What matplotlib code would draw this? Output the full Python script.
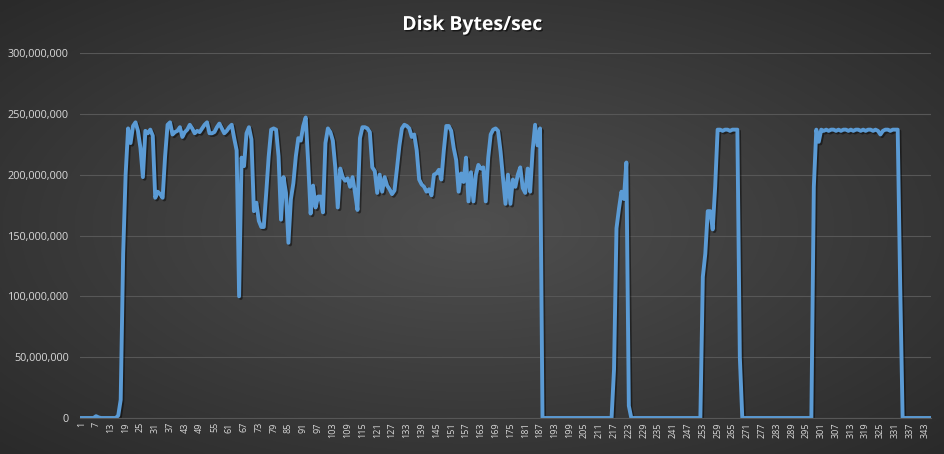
import matplotlib.pyplot as plt
import matplotlib.patheffects as pe
from matplotlib.ticker import FuncFormatter
import numpy as np

# Disk Bytes/sec samples (millions of bytes per second)
values_m = [
    0, 0, 0, 0, 0, 0, 1.5, 0.5, 0, 0, 0, 0, 0, 0, 0, 2,
    15, 135, 200, 238, 226, 240, 243, 236, 222, 198, 236, 234, 237, 232,
    181, 186, 184, 181, 215, 241, 243, 233, 235, 236, 239, 231, 235, 237, 241,
    238, 234, 236, 235, 238, 241, 243, 234, 234, 235, 239, 242, 238, 234, 236, 239, 241, 230, 220, 100,
    214, 207, 234, 239, 229, 170, 177, 162, 157, 157, 185, 215, 237, 238, 237, 215, 163, 198, 185, 144,
    180, 193, 215, 230, 228, 240, 247, 210, 168, 191, 173, 182, 182, 169, 226, 238, 235, 228, 206, 173,
    205, 198, 195, 197, 190, 198, 185, 171, 230, 239, 239, 238, 235, 206, 203, 185, 200, 186, 198, 191,
    188, 184, 187, 205, 224, 238, 241, 240, 238, 231, 233, 220, 196, 192, 190, 186, 188, 183, 200, 201,
    204, 196, 220, 240, 240, 236, 222, 212, 186, 201, 194, 214, 178, 202, 178, 200, 208, 205, 206, 178,
    214, 233, 237, 238, 236, 219, 197, 176, 200, 176, 196, 190, 200, 206, 189, 185, 205, 186, 220, 241, 224, 238,
    0, 0, 0, 0, 0, 0, 0, 0, 0, 0, 0, 0, 0, 0, 0, 0, 0, 0, 0, 0, 0, 0, 0, 0, 0, 0, 0, 0, 0,
    40, 156, 172, 186, 180, 210, 10,
    0, 0, 0, 0, 0, 0, 0, 0, 0, 0, 0, 0, 0, 0, 0, 0, 0, 0, 0, 0, 0, 0, 0, 0, 0, 0, 0, 0, 0,
    116, 135, 170, 170, 155, 190, 237, 237, 236, 237, 237, 236, 237, 237, 237, 50,
    0, 0, 0, 0, 0, 0, 0, 0, 0, 0, 0, 0, 0, 0, 0, 0, 0, 0, 0, 0, 0, 0, 0, 0, 0, 0, 0, 0, 0,
    190, 237, 227, 237,
    236, 237, 236, 237, 237, 236, 237, 236, 237, 237, 236, 237, 236, 237, 237, 236, 237, 236, 237, 237, 236, 237, 236,
    233, 236, 237, 237, 236, 237, 237, 237, 110,
    0, 0, 0, 0, 0, 0, 0, 0, 0, 0, 0, 0,
]
samples = list(range(1, len(values_m) + 1))
bytes_per_sec = [v * 1e6 for v in values_m]
xtick_labels = [str(s) for s in range(1, len(values_m) + 1, 6)]
ytick_values = [0, 50e6, 100e6, 150e6, 200e6, 250e6, 300e6]

LINE = '#5B9BD5'
TEXT = '#D9D9D9'
GRID = '#575757'

plt.rcParams['font.family'] = ['Open Sans', 'DejaVu Sans']

fig = plt.figure(figsize=(9.45, 4.54), dpi=100)

# radial gradient background like the Excel dark style
bg = fig.add_axes([0, 0, 1, 1], zorder=-10)
yy, xx = np.mgrid[-1:1:300j, -1:1:600j]
r = np.sqrt(xx ** 2 + yy ** 2) / np.sqrt(2)
grad = 0.31 - 0.145 * r
bg.imshow(np.dstack([grad, grad, grad]), aspect='auto', extent=[0, 1, 0, 1])
bg.axis('off')

ax = fig.add_axes([80 / 945, 1 - 418 / 454, (931 - 80) / 945, (418 - 53) / 454])
ax.set_facecolor('none')

ax.plot(samples, bytes_per_sec, color=LINE, linewidth=2.8, solid_joinstyle='round',
        path_effects=[pe.SimpleLineShadow(offset=(1.2, -1.2), shadow_color='black', alpha=0.45),
                      pe.Normal()])

ax.set_xlim(0.5, len(values_m) + 0.5)
ax.set_ylim(0, 300e6)
ax.set_yticks(ytick_values)
ax.yaxis.set_major_formatter(FuncFormatter(lambda v, p: f'{int(v):,}'))
ax.set_xticks(range(1, len(values_m) + 1, 6))
ax.set_xticklabels(xtick_labels, rotation=90)

ax.grid(axis='y', color=GRID, linewidth=0.8)
ax.set_axisbelow(True)
for s in ['top', 'right', 'left']:
    ax.spines[s].set_visible(False)
ax.spines['bottom'].set_color(GRID)
ax.spines['bottom'].set_linewidth(0.8)
ax.tick_params(axis='both', length=0, colors=TEXT)
ax.tick_params(axis='y', labelsize=7.8, pad=8)
ax.tick_params(axis='x', labelsize=6.5, pad=3)

fig.text(0.5, 1 - 25 / 454, 'Disk Bytes/sec', ha='center', va='center', color='white',
         fontsize=14, fontweight='bold',
         path_effects=[pe.withSimplePatchShadow(offset=(1, -1), shadow_rgbFace='black', alpha=0.6)])

fig.savefig('out.png', dpi=100)
